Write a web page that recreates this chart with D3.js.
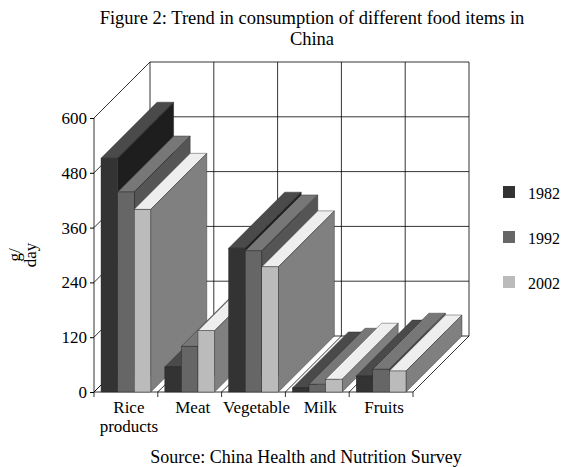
<!DOCTYPE html><html><head><meta charset="utf-8">
<script src="https://cdn.jsdelivr.net/npm/d3@7"></script>
<style>body{margin:0;background:#fff}svg{font-family:"Liberation Serif","DejaVu Serif",serif}</style>
</head><body><svg id="c" width="568" height="467"></svg>
<script>
const categories=["Rice products","Meat","Vegetable","Milk","Fruits"];
const years=["1982","1992","2002"];
const v1982=[512,55,315,9,35];
const v1992=[438,100,309,17,50];
const v2002=[400,134,274,28,46];
const ticks=[0,120,240,360,480,600];
const series=[v1982,v1992,v2002];
const front=["#333333","#666666","#bbbbbb"],top_=["#4a4a4a","#777777","#eeeeee"],side=["#1e1e1e","#555555","#808080"];
const svg=d3.select("#c");
const x0=94,x1=413,dx=56,dy=56;
const y=d3.scaleLinear().domain([0,600]).range([392,118]);
const xb=d3.scaleBand().domain(categories).range([x0,x1]).paddingInner(0.22).paddingOuter(0.11);
const xi=d3.scaleBand().domain(years).range([0,xb.bandwidth()]);
const g=svg.append("g");
const ln=(a,b,c,d)=>g.append("line").attr("x1",a).attr("y1",b).attr("x2",c).attr("y2",d).attr("stroke","#000").attr("stroke-width",0.8);
ticks.forEach(t=>{ln(x0+dx,y(t)-dy,x1+dx,y(t)-dy);ln(x0,y(t),x0+dx,y(t)-dy);});
const bounds=d3.range(categories.length+1).map(i=>x0+(x1-x0)*i/categories.length);
bounds.forEach(b=>{ln(b+dx,y(0)-dy,b+dx,y(600)-dy);ln(b,y(0),b+dx,y(0)-dy);});
ln(x0,y(0),x1,y(0));ln(x0,y(0),x0,y(600));
categories.forEach((c,ci)=>{years.forEach((yr,si)=>{
 const v=series[si][ci];const l=xb(c)+xi(yr),r=l+xi.bandwidth(),t=y(v),b=y(0);
 g.append("polygon").attr("points",[[l,t],[r,t],[r+dx,t-dy],[l+dx,t-dy]].join(" ")).attr("fill",top_[si]).attr("stroke","#222").attr("stroke-width",0.4);
 g.append("polygon").attr("points",[[r,t],[r+dx,t-dy],[r+dx,b-dy],[r,b]].join(" ")).attr("fill",side[si]).attr("stroke","#222").attr("stroke-width",0.4);
 g.append("rect").attr("x",l).attr("y",t).attr("width",r-l).attr("height",b-t).attr("fill",front[si]).attr("stroke","#222").attr("stroke-width",0.4);
});});
const ya=svg.append("g").attr("transform",`translate(${x0},0)`).call(d3.axisLeft(y).tickValues(ticks).tickSize(4).tickSizeOuter(0));
ya.selectAll("text").attr("font-size",17).attr("font-family","Liberation Serif");ya.select(".domain").remove();
svg.append("text").attr("transform","translate(20,255) rotate(-90)").attr("text-anchor","middle").attr("font-size",17)
 .selectAll("tspan").data(["g/","day"]).join("tspan").attr("x",0).attr("dy",(d,i)=>i?16:0).text(d=>d);
categories.forEach(c=>{const cx=xb(c)+xb.bandwidth()/2+3;const parts=c==="Rice products"?["Rice","products"]:[c];
 svg.append("text").attr("x",cx).attr("y",413).attr("text-anchor","middle").attr("font-size",17).selectAll("tspan").data(parts).join("tspan").attr("x",cx).attr("dy",(d,i)=>i?19:0).text(d=>d);});
bounds.forEach(b=>ln(b,392,b,397));
years.forEach((yr,i)=>{const ly=194+i*45;svg.append("rect").attr("x",503).attr("y",ly-8).attr("width",12).attr("height",12).attr("fill",front[i]);
 svg.append("text").attr("x",528).attr("y",ly+5).attr("font-size",16).text(yr);});
svg.append("text").attr("x",312).attr("y",24).attr("text-anchor","middle").attr("font-size",18.5).text("Figure 2: Trend in consumption of different food items in");
svg.append("text").attr("x",312).attr("y",45).attr("text-anchor","middle").attr("font-size",18.5).text("China");
svg.append("text").attr("x",306).attr("y",463).attr("text-anchor","middle").attr("font-size",18).text("Source: China Health and Nutrition Survey");
</script></body></html>
